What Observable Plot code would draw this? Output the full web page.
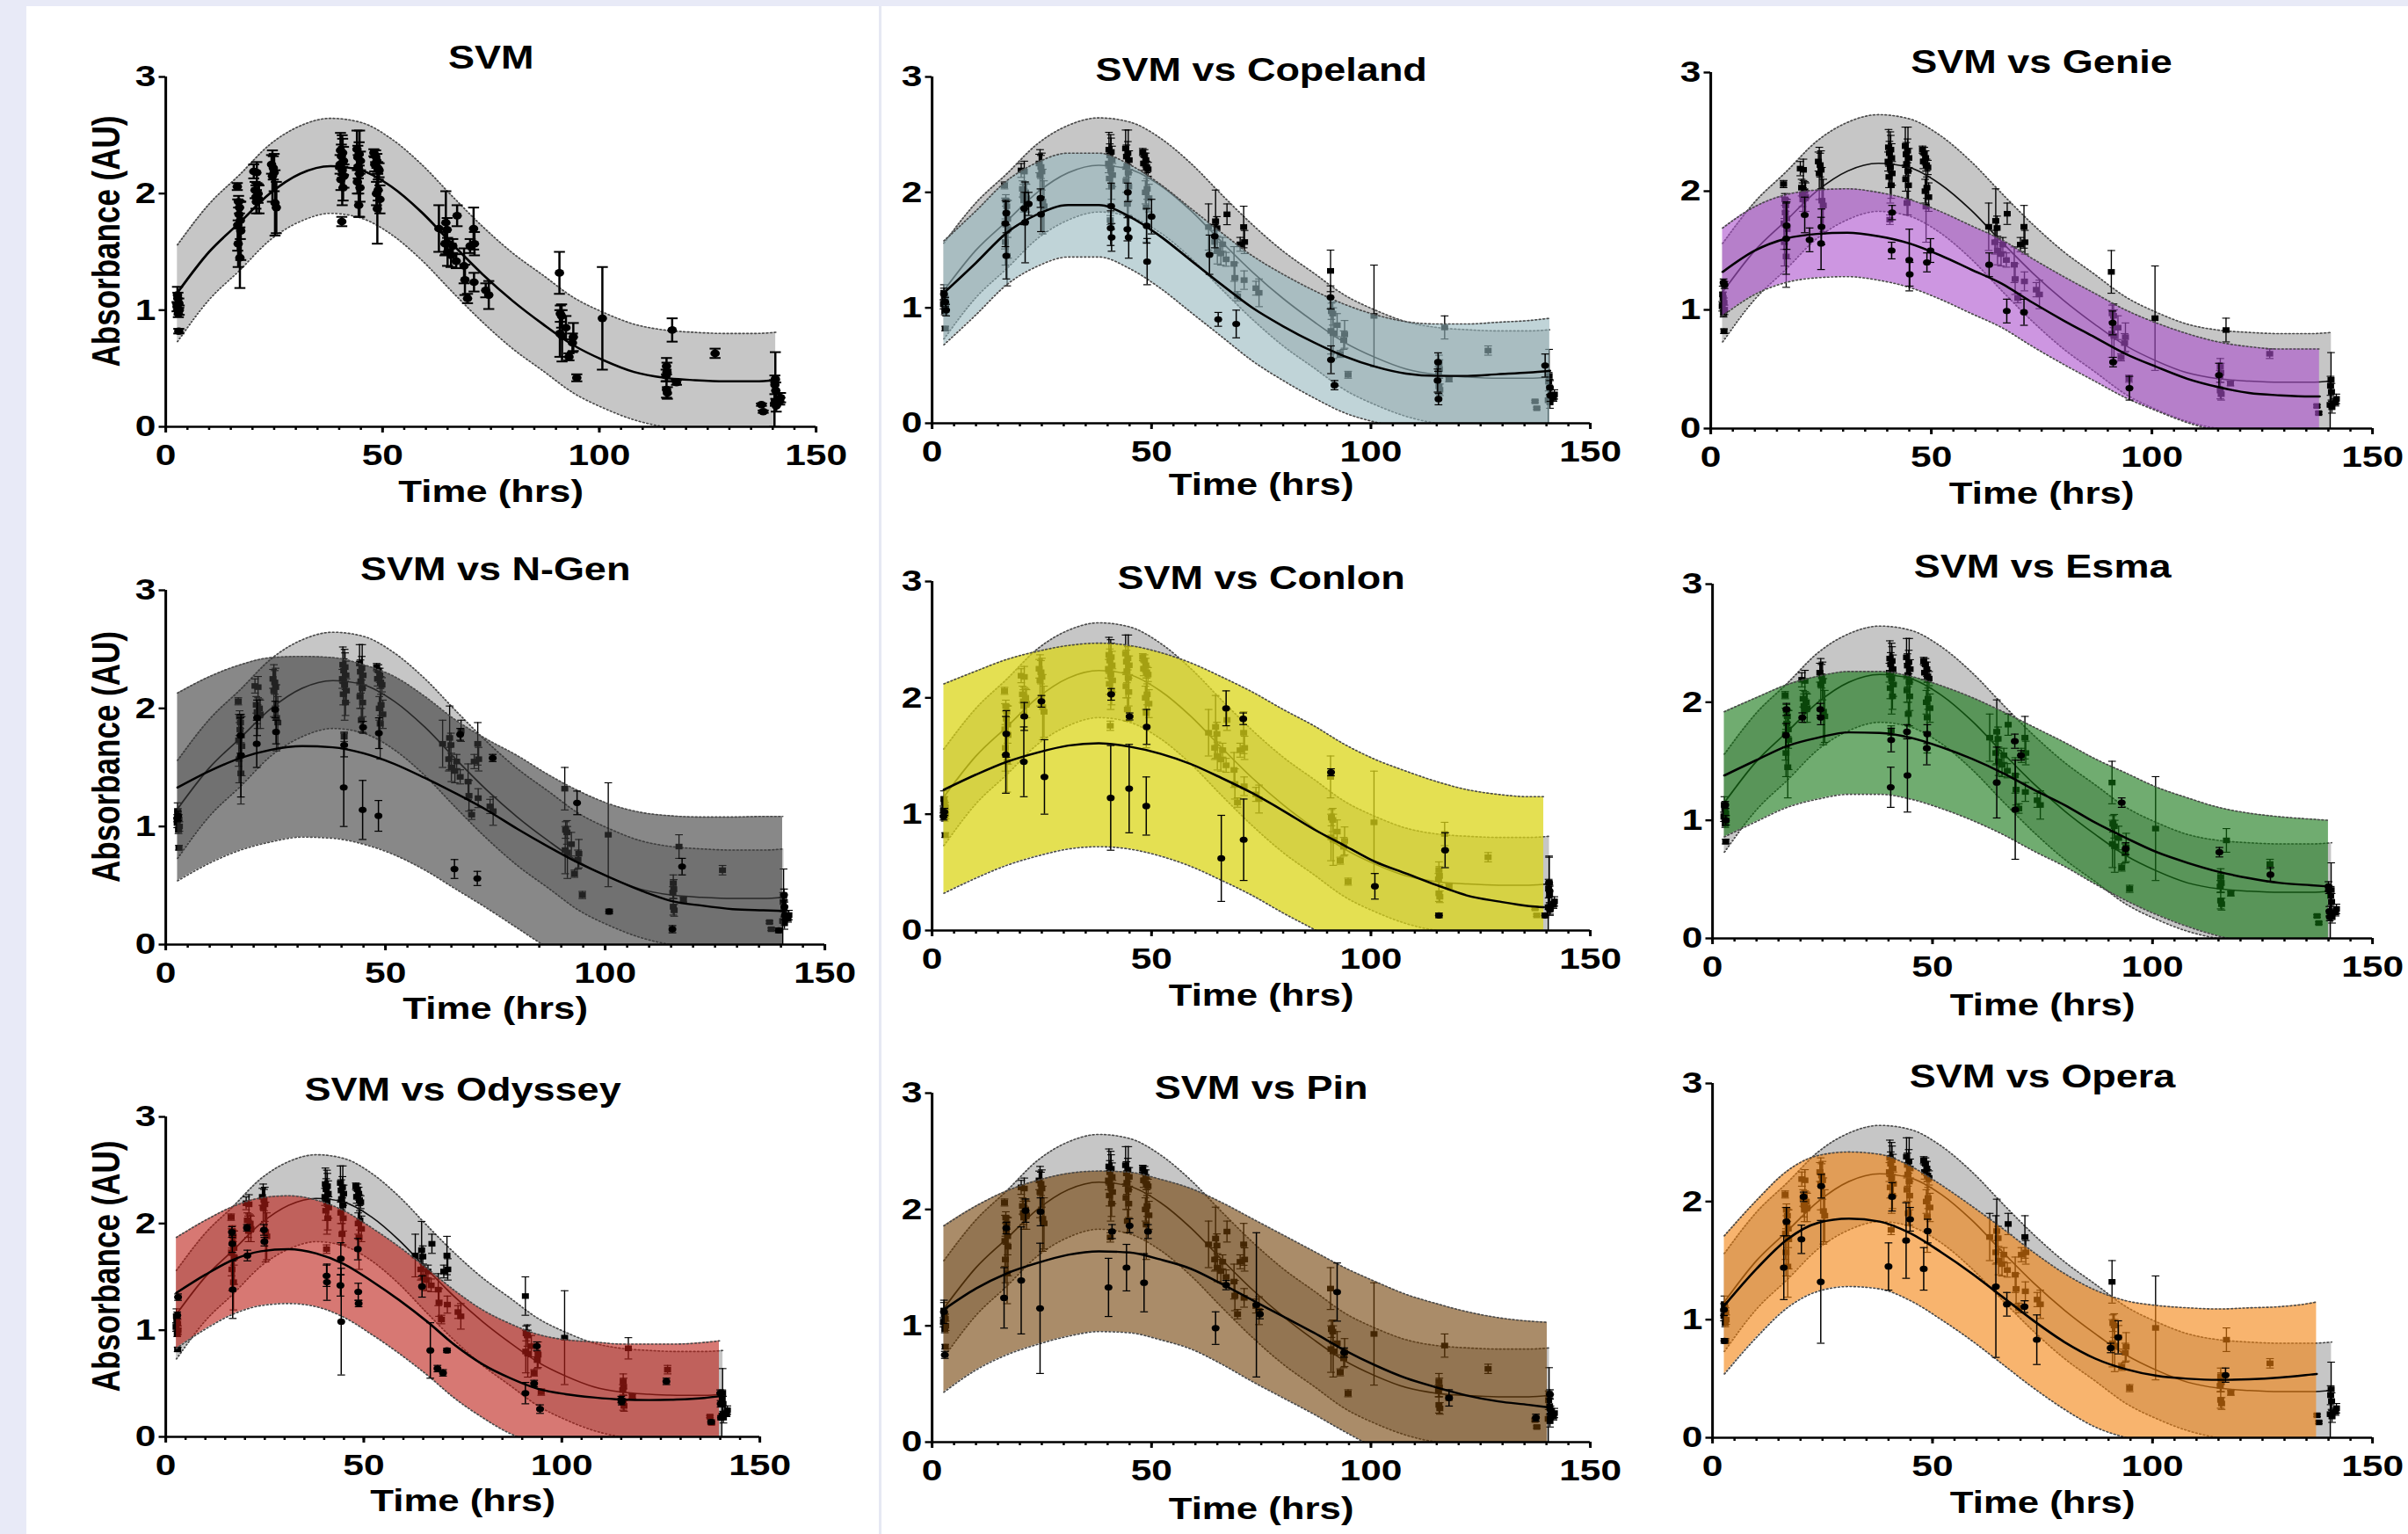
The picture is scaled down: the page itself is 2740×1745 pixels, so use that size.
<!DOCTYPE html>
<html><head><meta charset="utf-8">
<script src="https://cdn.jsdelivr.net/npm/d3@7"></script>
<script src="https://cdn.jsdelivr.net/npm/@observablehq/plot@0.6"></script>
<style>
html,body{margin:0;padding:0;}
body{width:2740px;height:1745px;background:#e8eaf7;position:relative;overflow:hidden;}
#sheet{position:absolute;left:30px;top:7px;width:2710px;height:1738px;background:#fff;}
.divider{position:absolute;top:7px;left:1000px;width:3px;height:1738px;background:#e6e8f3;}
.panel{position:absolute;transform-origin:0 0;transform:scaleX(1.25);}
</style></head><body>
<div id="sheet"></div><div class="divider"></div>
<script>
// ---------- tick labels ----------
const xTicks = [0, 50, 100, 150];
const xMinorTicks = [0,5,10,15,20,25,30,35,40,45,50,55,60,65,70,75,80,85,90,95,100,105,110,115,120,125,130,135,140,145,150];
const yTicks = [0, 1, 2, 3];
const titles = ["SVM","SVM vs Copeland","SVM vs Genie","SVM vs N-Gen","SVM vs Conlon","SVM vs Esma","SVM vs Odyssey","SVM vs Pin","SVM vs Opera"];

// ---------- fitted curves & prediction bands (read at these times; last time = band end) ----------
const fitTimes = [2.7,10,17,24,31,38,45,52,59,66,73,80,87,94,101,108,115,122,129,136];

const svmEnd = 140.7;
const svmMid = [1.15,1.50,1.75,2.00,2.17,2.235,2.20,2.06,1.84,1.57,1.31,1.08,0.88,0.70,0.57,0.47,0.42,0.40,0.39,0.39,0.40];
const svmLo  = [0.73,1.09,1.34,1.60,1.76,1.83,1.79,1.65,1.43,1.16,0.90,0.67,0.48,0.29,0.16,0.06,0.00,-0.02,-0.02,-0.02,-0.02];
const svmHi  = [1.56,1.91,2.16,2.42,2.58,2.645,2.61,2.47,2.25,1.98,1.72,1.49,1.30,1.11,0.98,0.88,0.83,0.81,0.80,0.80,0.81];

const copelandEnd = 140.8;
const copelandMid = [1.13,1.39,1.65,1.81,1.89,1.89,1.79,1.62,1.41,1.20,1.00,0.84,0.70,0.58,0.49,0.43,0.41,0.41,0.425,0.44,0.455];
const copelandLo  = [0.68,0.94,1.20,1.36,1.44,1.44,1.34,1.17,0.96,0.75,0.54,0.37,0.22,0.09,0.01,-0.04,-0.06,-0.06,-0.05,-0.03,-0.02];
const copelandHi  = [1.58,1.84,2.10,2.26,2.34,2.34,2.24,2.07,1.86,1.65,1.45,1.29,1.15,1.03,0.94,0.88,0.86,0.86,0.875,0.89,0.91];

const genieEnd = 138;
const genieMid = [1.32,1.50,1.60,1.64,1.65,1.62,1.56,1.46,1.34,1.22,1.06,0.91,0.77,0.63,0.52,0.42,0.35,0.30,0.28,0.27,0.27];
const genieLo  = [0.95,1.13,1.23,1.27,1.28,1.25,1.19,1.09,0.97,0.85,0.69,0.54,0.40,0.26,0.15,0.05,-0.02,-0.07,-0.09,-0.10,-0.10];
const genieHi  = [1.69,1.87,1.97,2.01,2.02,1.99,1.93,1.83,1.71,1.59,1.43,1.28,1.14,1.00,0.89,0.80,0.73,0.69,0.67,0.67,0.67];

const ngenEnd = 140.4;
const ngenMid = [1.33,1.47,1.58,1.65,1.68,1.67,1.62,1.53,1.41,1.28,1.14,0.98,0.83,0.69,0.57,0.46,0.37,0.33,0.30,0.29,0.285];
const ngenLo  = [0.54,0.69,0.80,0.87,0.91,0.90,0.85,0.76,0.63,0.47,0.31,0.14,-0.03,-0.18,-0.30,-0.40,-0.48,-0.50,-0.50,-0.50,-0.50];
const ngenHi  = [2.13,2.27,2.37,2.43,2.44,2.43,2.37,2.27,2.10,1.90,1.74,1.60,1.44,1.30,1.19,1.12,1.09,1.08,1.08,1.085,1.085];

const conlonEnd = 139.4;
const conlonMid = [1.21,1.34,1.45,1.53,1.59,1.61,1.58,1.52,1.43,1.31,1.18,1.03,0.87,0.73,0.59,0.49,0.39,0.30,0.25,0.21,0.20];
const conlonLo  = [0.32,0.45,0.56,0.64,0.70,0.72,0.70,0.64,0.55,0.43,0.30,0.15,0.01,-0.14,-0.28,-0.38,-0.48,-0.55,-0.60,-0.63,-0.65];
const conlonHi  = [2.12,2.23,2.33,2.40,2.45,2.47,2.45,2.39,2.30,2.18,2.05,1.90,1.76,1.60,1.47,1.37,1.28,1.21,1.17,1.15,1.15];

const esmaEnd = 140;
const esmaMid = [1.38,1.51,1.63,1.70,1.745,1.74,1.70,1.62,1.52,1.40,1.26,1.13,0.98,0.85,0.73,0.64,0.565,0.51,0.47,0.45,0.44];
const esmaLo  = [0.86,0.99,1.11,1.18,1.22,1.22,1.18,1.10,1.00,0.88,0.74,0.61,0.46,0.32,0.20,0.10,0.02,-0.04,-0.08,-0.11,-0.12];
const esmaHi  = [1.92,2.04,2.15,2.22,2.26,2.26,2.22,2.14,2.04,1.92,1.79,1.66,1.52,1.40,1.28,1.19,1.11,1.06,1.03,1.01,1.00];

const odysseyEnd = 139.8;
const odysseyMid = [1.35,1.52,1.66,1.74,1.76,1.72,1.62,1.46,1.28,1.08,0.86,0.68,0.55,0.45,0.40,0.37,0.35,0.345,0.35,0.365,0.38];
const odysseyLo  = [0.83,1.01,1.15,1.23,1.25,1.22,1.12,0.96,0.78,0.58,0.36,0.18,0.03,-0.06,-0.11,-0.14,-0.16,-0.17,-0.16,-0.15,-0.14];
const odysseyHi  = [1.87,2.03,2.16,2.24,2.26,2.22,2.12,1.96,1.78,1.58,1.37,1.19,1.06,0.96,0.91,0.89,0.87,0.87,0.87,0.885,0.90];

const pinEnd = 140.2;
const pinMid = [1.14,1.32,1.45,1.54,1.61,1.64,1.63,1.57,1.49,1.36,1.22,1.08,0.94,0.79,0.66,0.55,0.47,0.40,0.35,0.32,0.30];
const pinLo  = [0.43,0.62,0.75,0.84,0.91,0.95,0.94,0.88,0.80,0.67,0.52,0.38,0.24,0.09,-0.05,-0.16,-0.24,-0.31,-0.36,-0.39,-0.41];
const pinHi  = [1.86,2.03,2.16,2.25,2.31,2.33,2.32,2.26,2.18,2.06,1.92,1.78,1.64,1.50,1.38,1.27,1.19,1.12,1.07,1.04,1.03];

const operaEnd = 137.3;
const operaMid = [1.12,1.43,1.68,1.82,1.855,1.83,1.73,1.57,1.39,1.19,0.99,0.81,0.67,0.58,0.525,0.50,0.49,0.495,0.51,0.535,0.54];
const operaLo  = [0.54,0.85,1.10,1.24,1.28,1.26,1.16,1.00,0.82,0.62,0.42,0.24,0.09,0.00,-0.06,-0.09,-0.10,-0.10,-0.09,-0.07,-0.07];
const operaHi  = [1.71,2.01,2.26,2.39,2.42,2.40,2.30,2.14,1.96,1.77,1.57,1.39,1.25,1.16,1.12,1.10,1.09,1.10,1.11,1.14,1.15];

// ---------- measured points [time, absorbance, error] ----------
const svmPoints = [
[2.7,1.13,0.07],[2.8,1.10,0.05],[3.0,1.06,0.04],[2.6,1.03,0.04],[3.1,1.00,0.04],[2.9,0.97,0.03],[3.0,0.82,0.02],
[16.5,2.06,0.03],[16.8,1.93,0.05],[17.0,1.88,0.05],[16.9,1.82,0.12],[17.2,1.77,0.16],[16.6,1.73,0.22],[17.3,1.68,0.25],[16.7,1.57,0.2],[17.1,1.45,0.26],
[20.3,2.19,0.06],[21.0,2.18,0.09],[20.6,2.03,0.07],[21.3,2.00,0.08],[20.8,1.97,0.1],[21.5,1.95,0.12],[20.9,1.93,0.1],
[24.4,2.25,0.08],[24.8,2.22,0.1],[25.0,2.18,0.16],[24.6,2.15,0.22],[25.2,1.92,0.28],[25.5,1.88,0.22],
[40.3,2.37,0.15],[40.8,2.35,0.12],[40.5,2.32,0.1],[41.0,2.28,0.12],[40.2,2.25,0.08],[40.7,2.20,0.3],[41.1,2.15,0.1],[40.4,2.12,0.09],[40.9,2.05,0.11],[40.6,1.76,0.04],
[44.1,2.38,0.16],[44.6,2.34,0.1],[44.3,2.31,0.1],[44.9,2.28,0.08],[44.4,2.23,0.1],[44.7,2.17,0.37],[44.2,2.10,0.1],[44.8,2.05,0.12],[44.5,1.90,0.1],
[48.0,2.35,0.03],[48.4,2.32,0.05],[48.7,2.28,0.06],[48.2,2.25,0.06],[48.9,2.22,0.05],[49.2,2.20,0.06],[49.0,2.03,0.09],[48.6,2.00,0.1],[49.4,1.95,0.12],[48.8,1.87,0.3],
[63.0,1.70,0.2],[64.6,1.75,0.27],[64.9,1.69,0.1],[64.4,1.57,0.1],[65.0,1.50,0.12],[65.8,1.47,0.1],[66.2,1.55,0.06],[67.2,1.81,0.09],[67.0,1.42,0.06],
[68.8,1.38,0.15],[69.0,1.26,0.13],[69.6,1.10,0.04],[70.2,1.55,0.06],[71.0,1.70,0.18],[71.2,1.57,0.1],[71.1,1.24,0.08],
[73.8,1.17,0.06],[74.5,1.13,0.12],
[90.8,1.32,0.18],[91.0,0.97,0.07],[91.3,0.95,0.1],[90.9,0.80,0.2],[91.4,0.78,0.22],[92.3,0.85,0.1],[93.0,0.60,0.03],[94.0,0.77,0.12],[93.8,0.72,0.08],[94.8,0.42,0.03],
[100.7,0.93,0.44],
[115.5,0.52,0.07],[115.6,0.47,0.08],[115.4,0.44,0.05],[115.5,0.32,0.07],[115.7,0.29,0.05],[116.8,0.83,0.1],[117.8,0.38,0.02],
[126.7,0.63,0.04],
[137.4,0.19,0.01],[137.8,0.13,0.01],[140.6,0.41,0.23],[140.5,0.36,0.08],[140.7,0.31,0.07],[140.4,0.20,0.2],[140.8,0.18,0.05],[141.8,0.25,0.04],[141.6,0.22,0.03]
];
const copelandPoints = [
[2.7,1.12,0.05],[3.0,1.05,0.04],[3.2,0.98,0.05],[16.9,1.82,0.1],[16.7,1.73,0.2],[16.9,1.45,0.2],[21.0,1.86,0.14],[21.2,1.74,0.35],[22.0,1.90,0.1],
[24.7,1.95,0.08],[24.8,1.81,0.15],[40.8,1.88,0.2],[40.7,1.69,0.15],[40.9,1.61,0.12],[44.6,2.00,0.08],[44.5,1.68,0.1],[44.8,1.61,0.18],
[48.9,1.71,0.15],[49.0,1.40,0.2],[50.0,1.79,0.15],[63.2,1.46,0.17],[64.4,1.62,0.1],[65.2,0.90,0.06],[69.3,0.86,0.12],
[90.8,1.09,0.1],[90.9,0.55,0.12],[91.7,0.33,0.04],[115.3,0.53,0.08],[115.2,0.37,0.1],[115.4,0.21,0.05],[139.7,0.50,0.1],[140.8,0.31,0.06],[140.9,0.24,0.05]
];
const geniePoints = [
[2.9,1.23,0.03],[3.1,1.21,0.03],[17.2,1.71,0.2],[17.1,1.60,0.3],[21.3,1.80,0.15],[22.4,1.59,0.1],[25.1,1.70,0.15],[25.0,1.56,0.22],
[41.1,1.82,0.06],[41.0,1.50,0.07],[45.0,1.42,0.26],[45.1,1.30,0.1],[49.0,1.40,0.08],[49.8,1.50,0.1],[63.1,1.38,0.1],[67.1,0.99,0.1],
[71.0,0.98,0.11],[91.1,0.89,0.1],[91.2,0.56,0.04],[94.9,0.34,0.1],[115.2,0.45,0.1]
];
const ngenPoints = [
[2.6,1.07,0.03],[2.8,1.09,0.04],[17.0,1.77,0.15],[17.1,1.60,0.35],[20.8,1.92,0.15],[20.7,1.70,0.2],[24.9,1.99,0.07],[25.1,1.80,0.1],
[40.6,1.69,0.1],[40.5,1.33,0.33],[44.9,1.84,0.05],[44.8,1.14,0.25],[48.5,1.79,0.13],[48.4,1.09,0.13],[65.7,0.64,0.08],[67.0,1.78,0.05],
[70.9,0.56,0.06],[74.4,1.58,0.03],[93.6,1.20,0.1],[100.9,0.28,0.02],[115.3,0.13,0.03],[117.5,0.66,0.07],[139.5,0.12,0.02],
[140.7,0.42,0.05],[140.8,0.32,0.04],[140.9,0.25,0.04]
];
const conlonPoints = [
[2.6,0.98,0.03],[2.8,1.02,0.03],[16.9,1.69,0.2],[16.8,1.51,0.33],[21.0,1.84,0.12],[20.9,1.45,0.3],[24.9,1.97,0.05],[25.6,1.32,0.32],
[40.8,2.03,0.05],[40.7,1.14,0.45],[45.0,1.84,0.03],[44.9,1.22,0.38],[48.9,1.75,0.15],[48.8,1.07,0.25],[65.9,0.62,0.37],[67.0,1.91,0.15],
[70.9,1.82,0.05],[71.0,0.78,0.35],[90.9,1.36,0.03],[100.9,0.38,0.11],[115.5,0.13,0.02],[116.9,0.69,0.15],[139.7,0.13,0.02],
[140.6,0.41,0.22],[140.7,0.34,0.05],[140.8,0.18,0.04]
];
const esmaPoints = [
[2.9,1.13,0.03],[3.0,1.00,0.04],[16.8,1.94,0.05],[16.7,1.72,0.1],[20.4,1.87,0.04],[24.5,1.94,0.05],[24.6,1.87,0.06],
[40.6,1.68,0.1],[40.5,1.28,0.17],[44.2,1.75,0.06],[44.3,1.38,0.31],[48.8,1.73,0.08],[48.7,1.61,0.14],[64.6,1.32,0.3],
[68.7,1.67,0.06],[68.8,1.09,0.42],[70.1,1.55,0.04],[93.0,1.15,0.04],[93.9,0.76,0.05],[115.2,0.73,0.04],[126.8,0.54,0.06],
[140.0,0.44,0.04],[140.1,0.41,0.03],[140.2,0.23,0.04],[140.3,0.18,0.03]
];
const odysseyPoints = [
[3.1,1.31,0.03],[2.9,1.14,0.03],[16.7,1.92,0.05],[16.8,1.81,0.08],[16.9,1.38,0.27],[20.5,1.96,0.03],[20.6,1.70,0.05],[24.8,1.94,0.05],[24.9,1.83,0.04],
[40.6,1.51,0.1],[40.7,1.45,0.17],[44.2,1.67,0.15],[44.1,1.42,0.1],[44.3,1.08,0.5],[48.5,1.76,0.1],[48.6,1.36,0.08],[48.7,1.25,0.03],
[64.7,1.41,0.1],[66.8,0.81,0.26],[68.6,0.64,0.03],[70.0,0.60,0.03],[71.0,0.81,0.02],[90.8,0.41,0.1],[93.0,0.50,0.03],[93.7,0.85,0.04],
[94.5,0.26,0.04],[115.0,0.35,0.03],[115.1,0.33,0.03],[126.4,0.52,0.03],[137.7,0.14,0.02],[140.0,0.41,0.03],[140.1,0.31,0.03],[140.2,0.18,0.02]
];
const pinPoints = [
[2.7,1.12,0.1],[2.9,0.75,0.03],[16.4,1.24,0.26],[16.9,1.84,0.05],[20.3,1.39,0.46],[21.3,1.99,0.1],[24.7,1.98,0.12],[24.6,1.15,0.56],
[40.2,1.33,0.25],[41.0,1.81,0.06],[44.3,1.50,0.2],[45.0,1.86,0.06],[48.3,1.37,0.25],[49.2,1.81,0.06],[64.6,0.98,0.14],[67.0,1.35,0.04],
[73.9,1.18,0.62],[74.7,1.10,0.04],[92.3,1.29,0.25],[93.9,0.77,0.04],[117.8,0.38,0.07],[137.6,0.21,0.03],[140.8,0.41,0.04],[140.9,0.28,0.03],[141.0,0.24,0.03]
];
const operaPoints = [
[2.6,1.085,0.05],[2.7,0.82,0.02],[16.2,1.44,0.27],[16.8,1.83,0.12],[20.2,1.68,0.12],[20.7,2.04,0.04],[24.7,2.13,0.1],[24.6,1.32,0.52],
[40.0,1.45,0.2],[40.8,2.04,0.12],[44.0,1.67,0.32],[44.9,1.85,0.1],[48.0,1.43,0.18],[48.9,1.75,0.1],[64.4,1.28,0.6],[66.9,1.13,0.1],
[70.9,1.11,0.05],[73.7,0.83,0.21],[90.5,0.76,0.04],[92.2,0.85,0.14],[116.6,0.53,0.06]
];

// ---------- helpers ----------
const K = 1.25; // horizontal stretch of the original figure
function fitRows(end, lo, mid, hi) {
  const t = fitTimes.concat([end]);
  return t.map((x, i) => ({t: x, lo: lo[i], mid: mid[i], hi: hi[i]}));
}
function pointRows(arr) { return arr.map(([t, y, e]) => ({t, y, e})); }
const capSymbol = {draw(ctx, size) { const w = Math.sqrt(size / Math.PI); ctx.moveTo(-w, 0); ctx.lineTo(w, 0); }};

function bandMarks(rows, fill, opacity) {
  return [
    Plot.areaY(rows, {x: "t", y1: "lo", y2: "hi", fill, fillOpacity: opacity, curve: "monotone-x", clip: true}),
    Plot.lineY(rows, {x: "t", y: "lo", stroke: "#4a4a4a", strokeWidth: 1.6, strokeDasharray: "1.2,2.4", curve: "monotone-x", clip: true}),
    Plot.lineY(rows, {x: "t", y: "hi", stroke: "#4a4a4a", strokeWidth: 1.6, strokeDasharray: "1.2,2.4", curve: "monotone-x", clip: true})
  ];
}
function errMarks(pts, sw, cap) {
  return [
    Plot.ruleX(pts, {x: "t", y1: d => d.y - d.e, y2: d => d.y + d.e, stroke: "#000", strokeWidth: sw, clip: true}),
    Plot.dot(pts, {x: "t", y: d => d.y + d.e, symbol: capSymbol, r: cap, stroke: "#000", strokeWidth: sw, fill: "none", clip: true}),
    Plot.dot(pts, {x: "t", y: d => d.y - d.e, symbol: capSymbol, r: cap, stroke: "#000", strokeWidth: sw, fill: "none", clip: true})
  ];
}

const panels = [
  {title: titles[0], L: 188,  R: 928,  T: 87,   B: 485,  tOff: 21, xOff: 74, ylab: true},
  {title: titles[1], L: 1060, R: 1809, T: 87,   B: 481,  tOff: 7,  xOff: 70, fit: [copelandEnd, copelandLo, copelandMid, copelandHi], pts: copelandPoints, fill: "#96b7be", op: 0.6},
  {title: titles[2], L: 1946, R: 2699, T: 82,   B: 487,  tOff: 11, xOff: 74, fit: [genieEnd, genieLo, genieMid, genieHi], pts: geniePoints, fill: "#ac50cd", op: 0.6},
  {title: titles[3], L: 188,  R: 938,  T: 671,  B: 1074, tOff: 23, xOff: 73, ylab: true, fit: [ngenEnd, ngenLo, ngenMid, ngenHi], pts: ngenPoints, fill: "#393939", op: 0.6},
  {title: titles[4], L: 1060, R: 1809, T: 661,  B: 1058, tOff: 3,  xOff: 74, fit: [conlonEnd, conlonLo, conlonMid, conlonHi], pts: conlonPoints, fill: "#dbd618", op: 0.75},
  {title: titles[5], L: 1948, R: 2699, T: 664,  B: 1067, tOff: 19, xOff: 76, fit: [esmaEnd, esmaLo, esmaMid, esmaHi], pts: esmaPoints, fill: "#107510", op: 0.6},
  {title: titles[6], L: 188,  R: 864,  T: 1270, B: 1634, tOff: 30, xOff: 73, ylab: true, fit: [odysseyEnd, odysseyLo, odysseyMid, odysseyHi], pts: odysseyPoints, fill: "#bc1e16", op: 0.6},
  {title: titles[7], L: 1060, R: 1809, T: 1243, B: 1640, tOff: 5,  xOff: 76, fit: [pinEnd, pinLo, pinMid, pinHi], pts: pinPoints, fill: "#713f05", op: 0.6},
  {title: titles[8], L: 1948, R: 2699, T: 1232, B: 1635, tOff: 7,  xOff: 74, fit: [operaEnd, operaLo, operaMid, operaHi], pts: operaPoints, fill: "#f3820d", op: 0.6}
];

const svmRows = fitRows(svmEnd, svmLo, svmMid, svmHi);
const svmPts = pointRows(svmPoints);

for (const p of panels) {
  const padL = p.ylab ? 180 : 100, padR = 60, padT = 95, padB = 110;
  const marks = [];
  marks.push(...bandMarks(svmRows, "#c6c6c6", 1));
  if (!p.fit) {
    marks.push(...errMarks(svmPts, 2, 5));
    marks.push(Plot.lineY(svmRows, {x: "t", y: "mid", stroke: "#000", strokeWidth: 2.4, curve: "monotone-x", clip: true}));
    marks.push(Plot.dot(svmPts, {x: "t", y: "y", r: 4.3, fill: "#000", clip: true}));
  } else {
    marks.push(...errMarks(svmPts, 1.1, 3.5));
    marks.push(Plot.lineY(svmRows, {x: "t", y: "mid", stroke: "#111", strokeWidth: 1.5, curve: "monotone-x", clip: true}));
    marks.push(Plot.dot(svmPts, {x: "t", y: "y", r: 3.6, symbol: "square", fill: "#000", clip: true}));
    const rows = fitRows(...p.fit);
    const pts = pointRows(p.pts);
    marks.push(...bandMarks(rows, p.fill, p.op));
    marks.push(...errMarks(pts, 1.2, 3.5));
    marks.push(Plot.lineY(rows, {x: "t", y: "mid", stroke: "#000", strokeWidth: 2.4, curve: "monotone-x", clip: true}));
    marks.push(Plot.dot(pts, {x: "t", y: "y", r: 3.6, fill: "#000", clip: true}));
  }
  // axes
  marks.push(Plot.ruleY([0], {x1: 0, x2: 150, stroke: "#000", strokeWidth: 2.6}));
  marks.push(Plot.ruleX([0], {y1: 0, y2: 3, stroke: "#000", strokeWidth: 2.4}));
  marks.push(Plot.axisX({ticks: xMinorTicks, tickSize: 4, tickFormat: () => "", strokeWidth: 2, label: null}));
  marks.push(Plot.axisX({ticks: xTicks, tickSize: 7, tickPadding: 12, strokeWidth: 2.4, label: null, tickFormat: d => String(d)}));
  marks.push(Plot.axisY({ticks: yTicks, tickSize: 6, tickPadding: 3, strokeWidth: 2.4, label: null, tickFormat: d => String(d)}));
  // texts
  marks.push(Plot.text([p.title], {text: d => d, frameAnchor: "top", dy: -p.tOff, lineAnchor: "middle", fontSize: 36, fontWeight: "bold"}));
  marks.push(Plot.text(["Time (hrs)"], {text: d => d, frameAnchor: "bottom", dy: p.xOff, lineAnchor: "middle", fontSize: 35, fontWeight: "bold"}));
  if (p.ylab) {
    marks.push(Plot.text(["Absorbance (AU)"], {text: d => d, frameAnchor: "left", dx: -67 / K, dy: -12, rotate: -90, textAnchor: "middle", lineAnchor: "middle", fontSize: 35, fontWeight: "bold"}));
  }
  const svg = Plot.plot({
    width: (p.R - p.L + padL + padR) / K,
    height: (p.B - p.T) + padT + padB,
    marginLeft: padL / K, marginRight: padR / K, marginTop: padT, marginBottom: padB,
    x: {domain: [0, 150]},
    y: {domain: [0, 3]},
    style: {background: "transparent", maxWidth: "none", overflow: "visible", fontFamily: "'Liberation Sans', Arial, Helvetica, sans-serif", fontWeight: "bold", fontSize: "34px", color: "#000"},
    marks
  });
  const div = document.createElement("div");
  div.className = "panel";
  div.style.left = (p.L - padL) + "px";
  div.style.top = (p.T - padT) + "px";
  div.appendChild(svg);
  document.body.appendChild(div);
}
</script>
</body></html>
